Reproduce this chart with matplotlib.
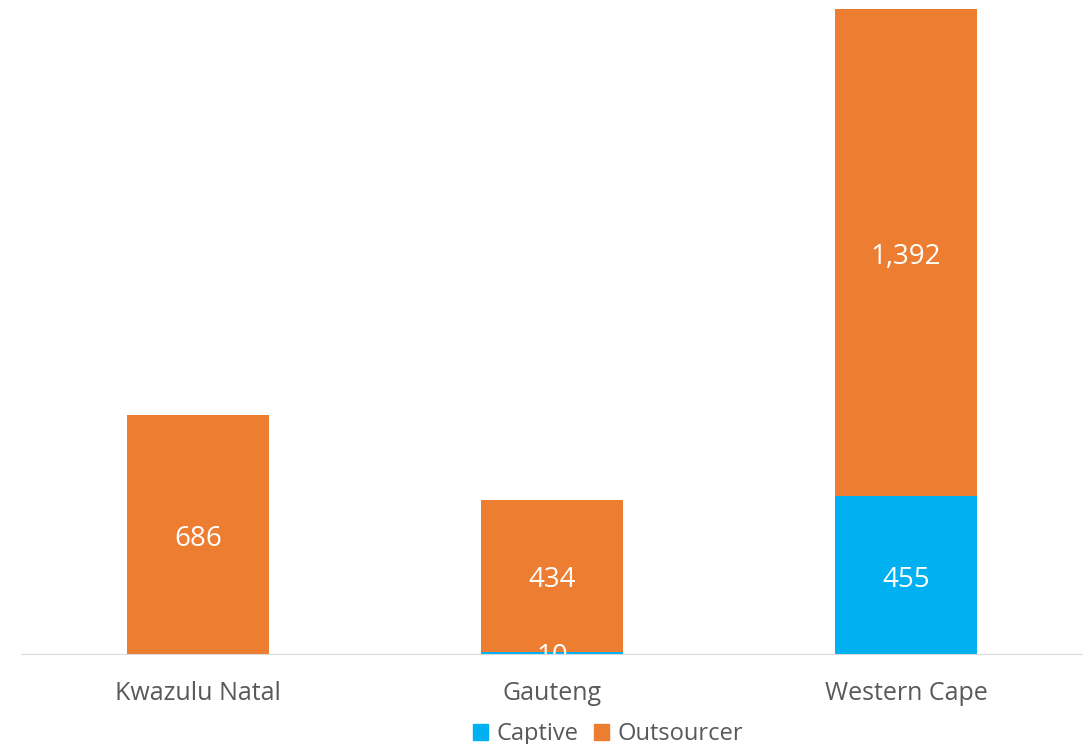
import numpy as np
import matplotlib.pyplot as plt
from matplotlib.patches import Patch

regions = ["Kwazulu Natal", "Gauteng", "Western Cape"]
captive = np.array([0, 10, 455])
outsourcer = np.array([686, 434, 1392])

BLUE = "#00B0F0"
ORANGE = "#ED7D31"
TEXT = "#595959"

plt.rcParams["font.family"] = ["Open Sans", "DejaVu Sans"]

fig = plt.figure(figsize=(10.92, 7.44), dpi=100)
ax = fig.add_axes([21 / 1092, 89 / 744, 1062 / 1092, 655 / 744])

x = np.arange(len(regions))
w = 0.4
ax.bar(x, captive, w, color=BLUE, label="Captive", zorder=2)
ax.bar(x, outsourcer, w, bottom=captive, color=ORANGE, label="Outsourcer", zorder=2)

def label(xv, yv, val):
    ax.annotate(f"{val:,}", (xv, yv), xytext=(0, -3), textcoords="offset points",
                ha="center", va="center", color="white", fontsize=20, zorder=3)

for i in range(len(regions)):
    if captive[i] > 0:
        label(x[i], captive[i] / 2, captive[i])
    label(x[i], captive[i] + outsourcer[i] / 2, outsourcer[i])

ax.set_xlim(-0.5, 2.5)
ax.set_ylim(0, (captive + outsourcer).max() * 655 / 646)
ax.axhline(0, color="#d9d9d9", lw=1.5, zorder=4)
for s in ax.spines.values():
    s.set_visible(False)
ax.set_yticks([])
ax.set_xticks(x)
ax.set_xticklabels(regions, fontsize=18, color=TEXT)
ax.tick_params(axis="x", length=0, pad=19)

handles = [Patch(color=BLUE, label="Captive"), Patch(color=ORANGE, label="Outsourcer")]
fig.legend(handles=handles, loc="center", bbox_to_anchor=(608 / 1092, 1 - 734 / 744),
           ncol=2, frameon=False, fontsize=17, labelcolor=TEXT,
           handlelength=0.65, handleheight=0.65, handletextpad=0.35, columnspacing=0.65,
           borderpad=0)

fig.savefig("out.png", dpi=100)
